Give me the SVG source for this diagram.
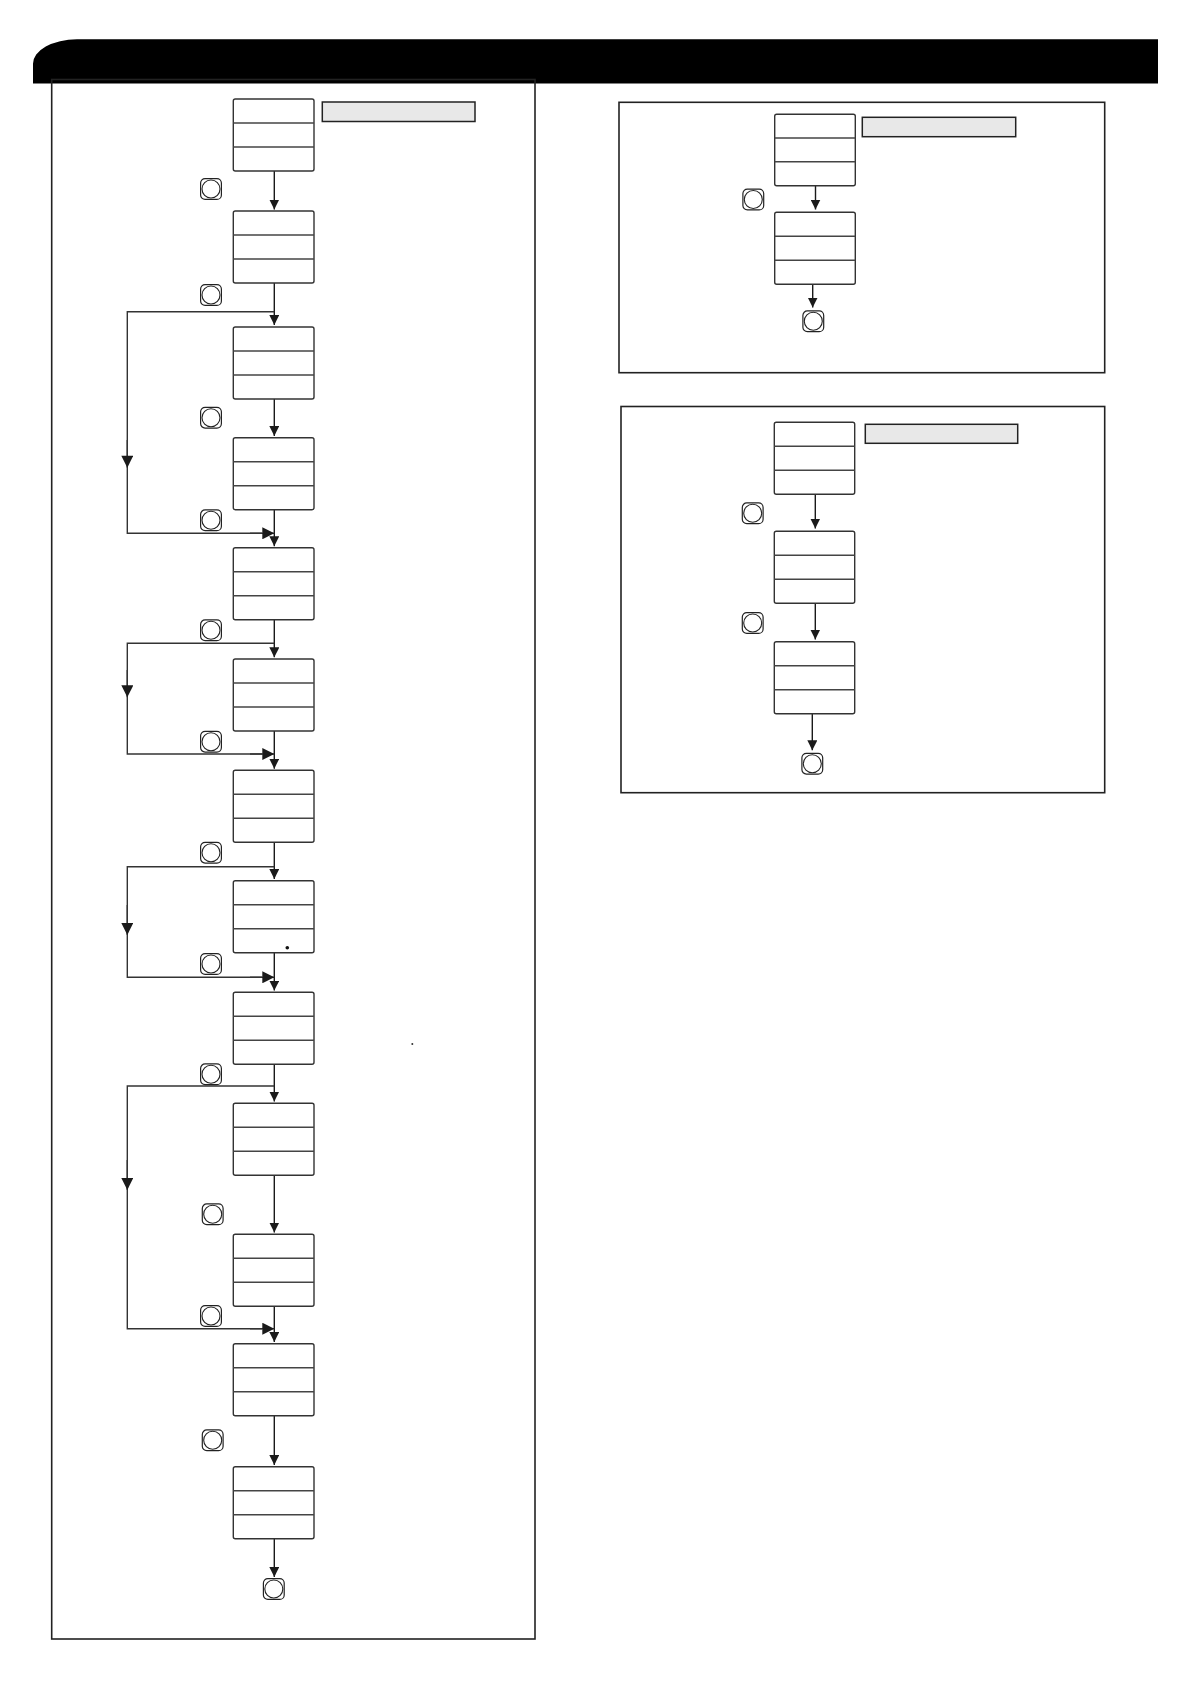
<svg xmlns="http://www.w3.org/2000/svg" xmlns:xlink="http://www.w3.org/1999/xlink" width="1191" height="1684" viewBox="0 0 1191 1684">
<style>
.frame{fill:none;stroke:#222;stroke-width:1.6}
.box rect{fill:#fff;stroke:#333;stroke-width:1.4}
.box line{stroke:#444;stroke-width:1.4}
.label{fill:#e8e8e8;stroke:#222;stroke-width:1.5}
.btn-sq{fill:#fff;stroke:#222;stroke-width:1.2}
.btn-c{fill:#fff;stroke:#222;stroke-width:1.1}
.conn{fill:none;stroke:#1a1a1a;stroke-width:1.4}
.loop{fill:none;stroke:#333;stroke-width:1.4}
</style>
<defs>
<marker id="ah" viewBox="0 0 10 10" refX="10" refY="5" markerWidth="10" markerHeight="10" markerUnits="userSpaceOnUse" orient="auto">
<polygon points="0,0 10,5 0,10" fill="#1a1a1a"/>
</marker>
<marker id="ahb" viewBox="0 0 12 12" refX="12" refY="6" markerWidth="12.5" markerHeight="12" markerUnits="userSpaceOnUse" orient="auto">
<polygon points="0,0 12,6 0,12" fill="#1a1a1a"/>
</marker>
<g id="btn">
<rect class="btn-sq" x="0.6" y="0.6" width="20.8" height="20.8" rx="4.5"/>
<circle class="btn-c" cx="11" cy="11" r="9"/>
</g>
</defs>
<rect width="1191" height="1684" fill="#fff"/>
<path id="header" d="M33,83.5 V64 A44,24.5 0 0 1 77,39.3 H1158 V83.5 Z" fill="#000"/>
<rect id="main-frame" class="frame" x="51.7" y="79.5" width="483.3" height="1559.5"/>
<rect id="panel1-frame" class="frame" x="619" y="102.3" width="485.7" height="270.4"/>
<rect id="panel2-frame" class="frame" x="621" y="406.5" width="483.7" height="386.2"/>

<g id="connectors">
<path class="conn" marker-end="url(#ah)" d="M274.3,171 V209.5"/>
<path class="conn" marker-end="url(#ah)" d="M274.3,283 V325"/>
<path class="conn" marker-end="url(#ah)" d="M274.3,399 V436"/>
<path class="conn" marker-end="url(#ah)" d="M274.3,509.7 V546.2"/>
<path class="conn" marker-end="url(#ah)" d="M274.3,619.7 V657.3"/>
<path class="conn" marker-end="url(#ah)" d="M274.3,731 V768.7"/>
<path class="conn" marker-end="url(#ah)" d="M274.3,842.3 V879"/>
<path class="conn" marker-end="url(#ah)" d="M274.3,952.7 V990.6"/>
<path class="conn" marker-end="url(#ah)" d="M274.3,1064.3 V1101.5"/>
<path class="conn" marker-end="url(#ah)" d="M274.3,1175.3 V1232.5"/>
<path class="conn" marker-end="url(#ah)" d="M274.3,1306.3 V1342"/>
<path class="conn" marker-end="url(#ah)" d="M274.3,1415.7 V1465"/>
<path class="conn" marker-end="url(#ah)" d="M274.3,1538.7 V1577"/>

<path class="loop" d="M274.3,311.7 H127.3 V533.3 H262"/>
<path class="loop" marker-end="url(#ahb)" d="M127.3,440 V467.7"/>
<path class="loop" marker-end="url(#ahb)" d="M250,533.3 H274.3"/>

<path class="loop" d="M274.3,643.3 H127.3 V754 H262"/>
<path class="loop" marker-end="url(#ahb)" d="M127.3,670 V697.3"/>
<path class="loop" marker-end="url(#ahb)" d="M250,754 H274.3"/>

<path class="loop" d="M274.3,866.7 H127.3 V977.3 H262"/>
<path class="loop" marker-end="url(#ahb)" d="M127.3,905 V935"/>
<path class="loop" marker-end="url(#ahb)" d="M250,977.3 H274.3"/>

<path class="loop" d="M274.3,1086 H127.3 V1328.7 H262"/>
<path class="loop" marker-end="url(#ahb)" d="M127.3,1160 V1190"/>
<path class="loop" marker-end="url(#ahb)" d="M250,1328.7 H274.3"/>

<path class="conn" marker-end="url(#ah)" d="M815.5,185.7 V209.5"/>
<path class="conn" marker-end="url(#ah)" d="M812.7,284.3 V307.5"/>
<path class="conn" marker-end="url(#ah)" d="M815.3,494.3 V528.5"/>
<path class="conn" marker-end="url(#ah)" d="M815.3,603.3 V639.5"/>
<path class="conn" marker-end="url(#ah)" d="M812.3,713.7 V750.3"/>
</g>

<g id="main-label"><rect class="label" x="322.3" y="102" width="152.7" height="19.5"/></g>
<g id="n1" class="box"><rect x="233.3" y="99" width="80.7" height="72" rx="2"/><line x1="233.3" y1="123" x2="314" y2="123"/><line x1="233.3" y1="147" x2="314" y2="147"/></g>
<g id="n2" class="box"><rect x="233.3" y="211" width="80.7" height="72" rx="2"/><line x1="233.3" y1="235" x2="314" y2="235"/><line x1="233.3" y1="259" x2="314" y2="259"/></g>
<g id="n3" class="box"><rect x="233.3" y="327" width="80.7" height="72" rx="2"/><line x1="233.3" y1="351" x2="314" y2="351"/><line x1="233.3" y1="375" x2="314" y2="375"/></g>
<g id="n4" class="box"><rect x="233.3" y="437.7" width="80.7" height="72" rx="2"/><line x1="233.3" y1="461.7" x2="314" y2="461.7"/><line x1="233.3" y1="485.7" x2="314" y2="485.7"/></g>
<g id="n5" class="box"><rect x="233.3" y="547.7" width="80.7" height="72" rx="2"/><line x1="233.3" y1="571.7" x2="314" y2="571.7"/><line x1="233.3" y1="595.7" x2="314" y2="595.7"/></g>
<g id="n6" class="box"><rect x="233.3" y="659" width="80.7" height="72" rx="2"/><line x1="233.3" y1="683" x2="314" y2="683"/><line x1="233.3" y1="707" x2="314" y2="707"/></g>
<g id="n7" class="box"><rect x="233.3" y="770.3" width="80.7" height="72" rx="2"/><line x1="233.3" y1="794.3" x2="314" y2="794.3"/><line x1="233.3" y1="818.3" x2="314" y2="818.3"/></g>
<g id="n8" class="box"><rect x="233.3" y="880.7" width="80.7" height="72" rx="2"/><line x1="233.3" y1="904.7" x2="314" y2="904.7"/><line x1="233.3" y1="928.7" x2="314" y2="928.7"/><circle cx="287.3" cy="947.7" r="1.8" fill="#111"/></g>
<g id="n9" class="box"><rect x="233.3" y="992.3" width="80.7" height="72" rx="2"/><line x1="233.3" y1="1016.3" x2="314" y2="1016.3"/><line x1="233.3" y1="1040.3" x2="314" y2="1040.3"/></g>
<g id="n10" class="box"><rect x="233.3" y="1103.3" width="80.7" height="72" rx="2"/><line x1="233.3" y1="1127.3" x2="314" y2="1127.3"/><line x1="233.3" y1="1151.3" x2="314" y2="1151.3"/></g>
<g id="n11" class="box"><rect x="233.3" y="1234.3" width="80.7" height="72" rx="2"/><line x1="233.3" y1="1258.3" x2="314" y2="1258.3"/><line x1="233.3" y1="1282.3" x2="314" y2="1282.3"/></g>
<g id="n12" class="box"><rect x="233.3" y="1343.7" width="80.7" height="72" rx="2"/><line x1="233.3" y1="1367.7" x2="314" y2="1367.7"/><line x1="233.3" y1="1391.7" x2="314" y2="1391.7"/></g>
<g id="n13" class="box"><rect x="233.3" y="1466.7" width="80.7" height="72" rx="2"/><line x1="233.3" y1="1490.7" x2="314" y2="1490.7"/><line x1="233.3" y1="1514.7" x2="314" y2="1514.7"/></g>
<g id="dot"><circle cx="412.3" cy="1044" r="1" fill="#333"/></g>

<g id="b1"><use xlink:href="#btn" x="200" y="178"/></g>
<g id="b2"><use xlink:href="#btn" x="200" y="284"/></g>
<g id="b3"><use xlink:href="#btn" x="200" y="406.7"/></g>
<g id="b4"><use xlink:href="#btn" x="200" y="509.3"/></g>
<g id="b5"><use xlink:href="#btn" x="200" y="619.3"/></g>
<g id="b6"><use xlink:href="#btn" x="200" y="730.7"/></g>
<g id="b7"><use xlink:href="#btn" x="200" y="841.7"/></g>
<g id="b8"><use xlink:href="#btn" x="200" y="953"/></g>
<g id="b9"><use xlink:href="#btn" x="200" y="1063.3"/></g>
<g id="b10"><use xlink:href="#btn" x="201.7" y="1203.3"/></g>
<g id="b11"><use xlink:href="#btn" x="200" y="1305"/></g>
<g id="b12"><use xlink:href="#btn" x="201.7" y="1429.3"/></g>
<g id="b-end"><use xlink:href="#btn" x="262.8" y="1578"/></g>

<g id="p1-label"><rect class="label" x="862.3" y="117.3" width="153.4" height="19.4"/></g>
<g id="p1-n1" class="box"><rect x="774.7" y="114.3" width="80.6" height="71.4" rx="2"/><line x1="774.7" y1="138" x2="855.3" y2="138"/><line x1="774.7" y1="161.8" x2="855.3" y2="161.8"/></g>
<g id="p1-n2" class="box"><rect x="774.7" y="212.3" width="80.6" height="72" rx="2"/><line x1="774.7" y1="236.3" x2="855.3" y2="236.3"/><line x1="774.7" y1="260.3" x2="855.3" y2="260.3"/></g>
<g id="p1-b1"><use xlink:href="#btn" x="742.3" y="188.5"/></g>
<g id="p1-end"><use xlink:href="#btn" x="802.3" y="310.3"/></g>

<g id="p2-label"><rect class="label" x="865.3" y="424.3" width="152.4" height="19"/></g>
<g id="p2-n1" class="box"><rect x="774.3" y="422.3" width="80.4" height="72" rx="2"/><line x1="774.3" y1="446.3" x2="854.7" y2="446.3"/><line x1="774.3" y1="470.3" x2="854.7" y2="470.3"/></g>
<g id="p2-n2" class="box"><rect x="774.3" y="531.3" width="80.4" height="72" rx="2"/><line x1="774.3" y1="555.3" x2="854.7" y2="555.3"/><line x1="774.3" y1="579.3" x2="854.7" y2="579.3"/></g>
<g id="p2-n3" class="box"><rect x="774.3" y="641.7" width="80.4" height="72" rx="2"/><line x1="774.3" y1="665.7" x2="854.7" y2="665.7"/><line x1="774.3" y1="689.7" x2="854.7" y2="689.7"/></g>
<g id="p2-b1"><use xlink:href="#btn" x="741.7" y="502.3"/></g>
<g id="p2-b2"><use xlink:href="#btn" x="741.7" y="612"/></g>
<g id="p2-end"><use xlink:href="#btn" x="801.3" y="752.7"/></g>
</svg>
